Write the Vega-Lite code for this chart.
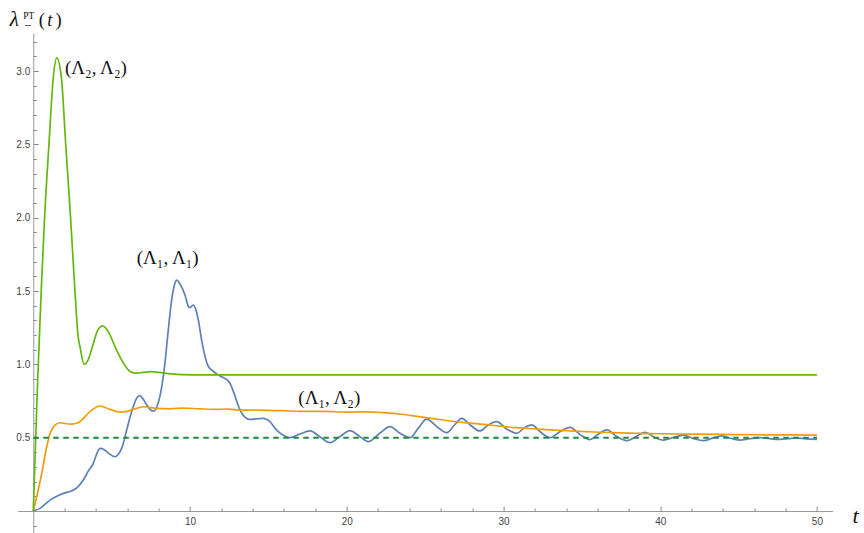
{
  "$schema": "https://vega.github.io/schema/vega-lite/v6.json",
  "width": 815,
  "height": 500,
  "autosize": {"type": "none"},
  "padding": {"left": 17.6, "top": 33, "right": 31.4, "bottom": 0},
  "config": {
    "view": {"stroke": null},
    "axis": {
      "grid": false,
      "domainColor": "#999999",
      "tickColor": "#888888",
      "tickWidth": 1,
      "labelFont": "Liberation Sans",
      "labelFontSize": 10,
      "labelColor": "#444444",
      "labelFlush": false,
      "labelOverlap": false,
      "titleFontWeight": "normal",
      "titleColor": "#111111",
      "titleAngle": 0,
      "titleFont": "Liberation Serif",
      "titleAlign": "left",
      "titleBaseline": "alphabetic",
      "titlePadding": 0
    }
  },
  "datasets": {
    "curves": [
      {"t": 0, "v": 0, "s": "A1A1"},
      {"t": 0.43, "v": 0.018, "s": "A1A1"},
      {"t": 1.07, "v": 0.074, "s": "A1A1"},
      {"t": 1.5, "v": 0.1, "s": "A1A1"},
      {"t": 1.92, "v": 0.12, "s": "A1A1"},
      {"t": 2.45, "v": 0.138, "s": "A1A1"},
      {"t": 2.8, "v": 0.16, "s": "A1A1"},
      {"t": 3.19, "v": 0.211, "s": "A1A1"},
      {"t": 3.5, "v": 0.27, "s": "A1A1"},
      {"t": 3.83, "v": 0.325, "s": "A1A1"},
      {"t": 4.05, "v": 0.39, "s": "A1A1"},
      {"t": 4.26, "v": 0.427, "s": "A1A1"},
      {"t": 4.5, "v": 0.42, "s": "A1A1"},
      {"t": 4.79, "v": 0.395, "s": "A1A1"},
      {"t": 5.21, "v": 0.37, "s": "A1A1"},
      {"t": 5.45, "v": 0.39, "s": "A1A1"},
      {"t": 5.7, "v": 0.445, "s": "A1A1"},
      {"t": 5.96, "v": 0.552, "s": "A1A1"},
      {"t": 6.2, "v": 0.65, "s": "A1A1"},
      {"t": 6.38, "v": 0.711, "s": "A1A1"},
      {"t": 6.6, "v": 0.77, "s": "A1A1"},
      {"t": 6.8, "v": 0.787, "s": "A1A1"},
      {"t": 7.0, "v": 0.765, "s": "A1A1"},
      {"t": 7.24, "v": 0.723, "s": "A1A1"},
      {"t": 7.55, "v": 0.685, "s": "A1A1"},
      {"t": 7.7, "v": 0.683, "s": "A1A1"},
      {"t": 7.95, "v": 0.73, "s": "A1A1"},
      {"t": 8.2, "v": 0.85, "s": "A1A1"},
      {"t": 8.4, "v": 1.007, "s": "A1A1"},
      {"t": 8.6, "v": 1.22, "s": "A1A1"},
      {"t": 8.83, "v": 1.44, "s": "A1A1"},
      {"t": 9.0, "v": 1.54, "s": "A1A1"},
      {"t": 9.15, "v": 1.574, "s": "A1A1"},
      {"t": 9.35, "v": 1.55, "s": "A1A1"},
      {"t": 9.68, "v": 1.473, "s": "A1A1"},
      {"t": 9.9, "v": 1.395, "s": "A1A1"},
      {"t": 10.0, "v": 1.387, "s": "A1A1"},
      {"t": 10.21, "v": 1.405, "s": "A1A1"},
      {"t": 10.35, "v": 1.38, "s": "A1A1"},
      {"t": 10.53, "v": 1.303, "s": "A1A1"},
      {"t": 10.75, "v": 1.16, "s": "A1A1"},
      {"t": 10.96, "v": 1.053, "s": "A1A1"},
      {"t": 11.15, "v": 0.99, "s": "A1A1"},
      {"t": 11.38, "v": 0.962, "s": "A1A1"},
      {"t": 11.7, "v": 0.935, "s": "A1A1"},
      {"t": 12.02, "v": 0.916, "s": "A1A1"},
      {"t": 12.3, "v": 0.9, "s": "A1A1"},
      {"t": 12.55, "v": 0.871, "s": "A1A1"},
      {"t": 12.85, "v": 0.79, "s": "A1A1"},
      {"t": 13.19, "v": 0.689, "s": "A1A1"},
      {"t": 13.5, "v": 0.64, "s": "A1A1"},
      {"t": 13.83, "v": 0.624, "s": "A1A1"},
      {"t": 14.2, "v": 0.628, "s": "A1A1"},
      {"t": 14.68, "v": 0.632, "s": "A1A1"},
      {"t": 15.1, "v": 0.609, "s": "A1A1"},
      {"t": 15.5, "v": 0.555, "s": "A1A1"},
      {"t": 15.9, "v": 0.52, "s": "A1A1"},
      {"t": 16.38, "v": 0.5, "s": "A1A1"},
      {"t": 17.0, "v": 0.525, "s": "A1A1"},
      {"t": 17.66, "v": 0.546, "s": "A1A1"},
      {"t": 18.3, "v": 0.505, "s": "A1A1"},
      {"t": 18.93, "v": 0.466, "s": "A1A1"},
      {"t": 19.6, "v": 0.51, "s": "A1A1"},
      {"t": 20.21, "v": 0.548, "s": "A1A1"},
      {"t": 20.8, "v": 0.51, "s": "A1A1"},
      {"t": 21.38, "v": 0.473, "s": "A1A1"},
      {"t": 22.1, "v": 0.53, "s": "A1A1"},
      {"t": 22.76, "v": 0.575, "s": "A1A1"},
      {"t": 23.4, "v": 0.53, "s": "A1A1"},
      {"t": 24.04, "v": 0.5, "s": "A1A1"},
      {"t": 24.6, "v": 0.57, "s": "A1A1"},
      {"t": 25.1, "v": 0.626, "s": "A1A1"},
      {"t": 25.75, "v": 0.575, "s": "A1A1"},
      {"t": 26.38, "v": 0.534, "s": "A1A1"},
      {"t": 26.9, "v": 0.59, "s": "A1A1"},
      {"t": 27.34, "v": 0.632, "s": "A1A1"},
      {"t": 27.9, "v": 0.585, "s": "A1A1"},
      {"t": 28.5, "v": 0.546, "s": "A1A1"},
      {"t": 29.0, "v": 0.585, "s": "A1A1"},
      {"t": 29.57, "v": 0.609, "s": "A1A1"},
      {"t": 30.2, "v": 0.56, "s": "A1A1"},
      {"t": 30.85, "v": 0.53, "s": "A1A1"},
      {"t": 31.3, "v": 0.565, "s": "A1A1"},
      {"t": 31.8, "v": 0.587, "s": "A1A1"},
      {"t": 32.4, "v": 0.535, "s": "A1A1"},
      {"t": 32.97, "v": 0.5, "s": "A1A1"},
      {"t": 33.6, "v": 0.54, "s": "A1A1"},
      {"t": 34.25, "v": 0.571, "s": "A1A1"},
      {"t": 34.9, "v": 0.52, "s": "A1A1"},
      {"t": 35.5, "v": 0.487, "s": "A1A1"},
      {"t": 36.0, "v": 0.52, "s": "A1A1"},
      {"t": 36.6, "v": 0.553, "s": "A1A1"},
      {"t": 37.2, "v": 0.51, "s": "A1A1"},
      {"t": 37.87, "v": 0.48, "s": "A1A1"},
      {"t": 38.5, "v": 0.51, "s": "A1A1"},
      {"t": 39.04, "v": 0.537, "s": "A1A1"},
      {"t": 39.6, "v": 0.505, "s": "A1A1"},
      {"t": 40.2, "v": 0.484, "s": "A1A1"},
      {"t": 40.8, "v": 0.5, "s": "A1A1"},
      {"t": 41.48, "v": 0.518, "s": "A1A1"},
      {"t": 42.1, "v": 0.495, "s": "A1A1"},
      {"t": 42.76, "v": 0.48, "s": "A1A1"},
      {"t": 43.3, "v": 0.495, "s": "A1A1"},
      {"t": 43.93, "v": 0.512, "s": "A1A1"},
      {"t": 44.5, "v": 0.496, "s": "A1A1"},
      {"t": 45.1, "v": 0.484, "s": "A1A1"},
      {"t": 45.7, "v": 0.493, "s": "A1A1"},
      {"t": 46.37, "v": 0.5, "s": "A1A1"},
      {"t": 47.0, "v": 0.493, "s": "A1A1"},
      {"t": 47.65, "v": 0.489, "s": "A1A1"},
      {"t": 48.2, "v": 0.494, "s": "A1A1"},
      {"t": 48.7, "v": 0.498, "s": "A1A1"},
      {"t": 49.3, "v": 0.492, "s": "A1A1"},
      {"t": 50, "v": 0.489, "s": "A1A1"},

      {"t": 0, "v": 0, "s": "A1A2"},
      {"t": 0.22, "v": 0.097, "s": "A1A2"},
      {"t": 0.54, "v": 0.257, "s": "A1A2"},
      {"t": 0.86, "v": 0.438, "s": "A1A2"},
      {"t": 1.07, "v": 0.529, "s": "A1A2"},
      {"t": 1.39, "v": 0.586, "s": "A1A2"},
      {"t": 1.7, "v": 0.602, "s": "A1A2"},
      {"t": 2.1, "v": 0.595, "s": "A1A2"},
      {"t": 2.45, "v": 0.593, "s": "A1A2"},
      {"t": 2.8, "v": 0.6, "s": "A1A2"},
      {"t": 3.09, "v": 0.62, "s": "A1A2"},
      {"t": 3.4, "v": 0.655, "s": "A1A2"},
      {"t": 3.73, "v": 0.688, "s": "A1A2"},
      {"t": 4.26, "v": 0.716, "s": "A1A2"},
      {"t": 4.9, "v": 0.693, "s": "A1A2"},
      {"t": 5.53, "v": 0.675, "s": "A1A2"},
      {"t": 6.0, "v": 0.68, "s": "A1A2"},
      {"t": 6.38, "v": 0.693, "s": "A1A2"},
      {"t": 7.02, "v": 0.711, "s": "A1A2"},
      {"t": 7.87, "v": 0.7, "s": "A1A2"},
      {"t": 8.7, "v": 0.697, "s": "A1A2"},
      {"t": 9.57, "v": 0.702, "s": "A1A2"},
      {"t": 10.6, "v": 0.697, "s": "A1A2"},
      {"t": 11.7, "v": 0.693, "s": "A1A2"},
      {"t": 12.5, "v": 0.695, "s": "A1A2"},
      {"t": 13.2, "v": 0.688, "s": "A1A2"},
      {"t": 14.0, "v": 0.689, "s": "A1A2"},
      {"t": 14.9, "v": 0.686, "s": "A1A2"},
      {"t": 15.9, "v": 0.684, "s": "A1A2"},
      {"t": 17.0, "v": 0.68, "s": "A1A2"},
      {"t": 18.5, "v": 0.679, "s": "A1A2"},
      {"t": 20.2, "v": 0.675, "s": "A1A2"},
      {"t": 21.3, "v": 0.676, "s": "A1A2"},
      {"t": 22.3, "v": 0.671, "s": "A1A2"},
      {"t": 23.5, "v": 0.66, "s": "A1A2"},
      {"t": 24.5, "v": 0.645, "s": "A1A2"},
      {"t": 25.5, "v": 0.63, "s": "A1A2"},
      {"t": 26.6, "v": 0.614, "s": "A1A2"},
      {"t": 27.7, "v": 0.601, "s": "A1A2"},
      {"t": 28.7, "v": 0.591, "s": "A1A2"},
      {"t": 29.8, "v": 0.578, "s": "A1A2"},
      {"t": 30.85, "v": 0.568, "s": "A1A2"},
      {"t": 32, "v": 0.56, "s": "A1A2"},
      {"t": 33, "v": 0.553, "s": "A1A2"},
      {"t": 34.5, "v": 0.545, "s": "A1A2"},
      {"t": 36.2, "v": 0.537, "s": "A1A2"},
      {"t": 38, "v": 0.531, "s": "A1A2"},
      {"t": 40, "v": 0.527, "s": "A1A2"},
      {"t": 42, "v": 0.524, "s": "A1A2"},
      {"t": 44, "v": 0.522, "s": "A1A2"},
      {"t": 46, "v": 0.52, "s": "A1A2"},
      {"t": 48, "v": 0.519, "s": "A1A2"},
      {"t": 50, "v": 0.518, "s": "A1A2"},

      {"t": 0, "v": 0, "s": "A2A2"},
      {"t": 0.28, "v": 0.89, "s": "A2A2"},
      {"t": 0.51, "v": 1.51, "s": "A2A2"},
      {"t": 0.72, "v": 2.0, "s": "A2A2"},
      {"t": 1.0, "v": 2.5, "s": "A2A2"},
      {"t": 1.28, "v": 2.96, "s": "A2A2"},
      {"t": 1.5, "v": 3.09, "s": "A2A2"},
      {"t": 1.79, "v": 2.96, "s": "A2A2"},
      {"t": 2.07, "v": 2.5, "s": "A2A2"},
      {"t": 2.38, "v": 2.0, "s": "A2A2"},
      {"t": 2.66, "v": 1.5, "s": "A2A2"},
      {"t": 2.85, "v": 1.2, "s": "A2A2"},
      {"t": 3.0, "v": 1.11, "s": "A2A2"},
      {"t": 3.25, "v": 1.0, "s": "A2A2"},
      {"t": 3.5, "v": 1.03, "s": "A2A2"},
      {"t": 3.8, "v": 1.13, "s": "A2A2"},
      {"t": 4.1, "v": 1.23, "s": "A2A2"},
      {"t": 4.43, "v": 1.262, "s": "A2A2"},
      {"t": 4.8, "v": 1.22, "s": "A2A2"},
      {"t": 5.3, "v": 1.1, "s": "A2A2"},
      {"t": 5.8, "v": 1.0, "s": "A2A2"},
      {"t": 6.2, "v": 0.95, "s": "A2A2"},
      {"t": 6.6, "v": 0.94, "s": "A2A2"},
      {"t": 7.0, "v": 0.945, "s": "A2A2"},
      {"t": 7.5, "v": 0.95, "s": "A2A2"},
      {"t": 8.0, "v": 0.945, "s": "A2A2"},
      {"t": 8.8, "v": 0.935, "s": "A2A2"},
      {"t": 9.5, "v": 0.93, "s": "A2A2"},
      {"t": 11, "v": 0.928, "s": "A2A2"},
      {"t": 50, "v": 0.928, "s": "A2A2"}
    ],
    "ref": [
      {"t": 0, "v": 0.5},
      {"t": 50, "v": 0.5}
    ],
    "labels": [
      {"t": 2.02, "v": 2.98, "label": "(Λ₂, Λ₂)", "g": 1},
      {"t": 6.6, "v": 1.684, "label": "(Λ₁, Λ₁)", "g": 2},
      {"t": 16.91, "v": 0.727, "label": "(Λ₁, Λ₂)", "g": 2}
    ]
  },
  "resolve": {"axis": {"x": "independent", "y": "independent"}},
  "layer": [
    {
      "data": {"name": "curves"},
      "mark": {"type": "line", "interpolate": "monotone", "strokeWidth": 1.7},
      "encoding": {
        "x": {
          "field": "t", "type": "quantitative",
          "scale": {"domain": [-1, 51], "nice": false, "zero": false},
          "axis": {
            "orient": "bottom", "offset": -22,
            "values": [10, 20, 30, 40, 50],
            "ticks": false, "labelPadding": 5,
            "title": "t", "titleX": 834.4, "titleY": 11,
            "titleFontSize": 22, "titleFontStyle": "italic"
          }
        },
        "y": {
          "field": "v", "type": "quantitative",
          "scale": {"domain": [-0.15, 3.26], "nice": false, "zero": false},
          "axis": {
            "orient": "left", "offset": -15.67,
            "values": [0.5, 1.0, 1.5, 2.0, 2.5, 3.0], "format": ".1f",
            "ticks": false, "labelPadding": 3.5,
            "title": "λ", "titleX": -24, "titleY": -7.5,
            "titleFontSize": 21, "titleFontStyle": "italic"
          }
        },
        "color": {
          "field": "s", "type": "nominal",
          "scale": {"domain": ["A1A1", "A1A2", "A2A2"], "range": ["#5E81B5", "#F29B0C", "#62B80F"]},
          "legend": null
        }
      }
    },
    {
      "data": {"name": "ref"},
      "mark": {"type": "line", "color": "#1F8A3C", "strokeWidth": 2, "strokeDash": [5.5, 4.5]},
      "encoding": {
        "x": {
          "field": "t", "type": "quantitative",
          "scale": {"domain": [-1, 51], "nice": false, "zero": false},
          "axis": {
            "orient": "bottom", "offset": -22,
            "values": [2, 4, 6, 8, 12, 14, 16, 18, 22, 24, 26, 28, 32, 34, 36, 38, 42, 44, 46, 48],
            "domain": false, "labels": false, "tickSize": -3,
            "title": "−", "titleX": 6.0, "titleY": -482,
            "titleFontSize": 13, "titleFont": "Liberation Serif"
          }
        },
        "y": {
          "field": "v", "type": "quantitative",
          "scale": {"domain": [-0.15, 3.26], "nice": false, "zero": false},
          "axis": {
            "orient": "left", "offset": -15.67,
            "values": [-0.1, 0.1, 0.2, 0.3, 0.4, 0.6, 0.7, 0.8, 0.9, 1.1, 1.2, 1.3, 1.4, 1.6, 1.7, 1.8, 1.9, 2.1, 2.2, 2.3, 2.4, 2.6, 2.7, 2.8, 2.9, 3.1, 3.2],
            "domain": false, "labels": false, "tickSize": -3,
            "title": "PT", "titleX": -10.5, "titleY": -15,
            "titleFontSize": 9.5
          }
        }
      }
    },
    {
      "data": {"name": "labels"},
      "transform": [{"filter": "datum.g == 1"}],
      "mark": {"type": "text", "align": "left", "baseline": "alphabetic", "font": "Liberation Serif", "fontSize": 19, "color": "#111111"},
      "encoding": {
        "x": {
          "field": "t", "type": "quantitative",
          "scale": {"domain": [-1, 51], "nice": false, "zero": false},
          "axis": {
            "orient": "bottom", "offset": -22,
            "values": [10, 20, 30, 40, 50],
            "domain": false, "labels": false, "tickSize": -5,
            "title": "(", "titleX": 20.7, "titleY": -486,
            "titleFontSize": 18.5
          }
        },
        "y": {
          "field": "v", "type": "quantitative",
          "scale": {"domain": [-0.15, 3.26], "nice": false, "zero": false},
          "axis": {
            "orient": "left", "offset": -15.67,
            "values": [0.5, 1.0, 1.5, 2.0, 2.5, 3.0],
            "domain": false, "labels": false, "tickSize": -5,
            "title": ")", "titleX": 21.7, "titleY": -8,
            "titleFontSize": 18.5
          }
        },
        "text": {"field": "label"}
      }
    },
    {
      "data": {"name": "labels"},
      "transform": [{"filter": "datum.g == 2"}],
      "mark": {"type": "text", "align": "left", "baseline": "alphabetic", "font": "Liberation Serif", "fontSize": 19, "color": "#111111"},
      "encoding": {
        "x": {
          "field": "t", "type": "quantitative",
          "scale": {"domain": [-1, 51], "nice": false, "zero": false},
          "axis": {
            "orient": "bottom", "offset": -22,
            "domain": false, "labels": false, "ticks": false,
            "title": "t", "titleX": 29.2, "titleY": -486,
            "titleFontSize": 18.5, "titleFontStyle": "italic"
          }
        },
        "y": {
          "field": "v", "type": "quantitative",
          "scale": {"domain": [-0.15, 3.26], "nice": false, "zero": false},
          "axis": null
        },
        "text": {"field": "label"}
      }
    }
  ]
}
